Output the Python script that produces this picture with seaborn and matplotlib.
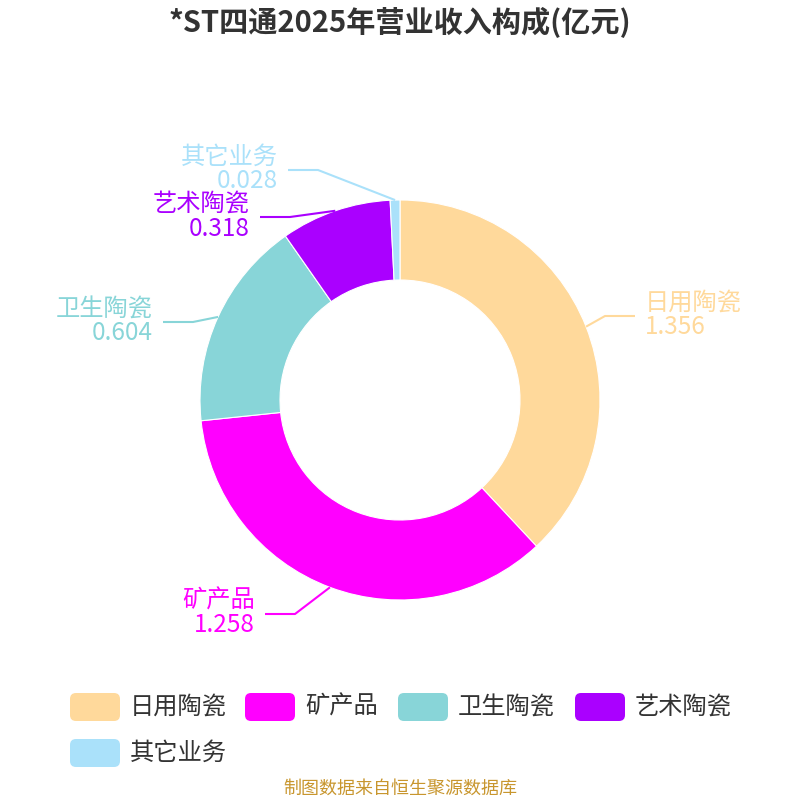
import matplotlib
matplotlib.use("Agg")
import matplotlib.pyplot as plt
import seaborn as sns
import numpy as np
from matplotlib.patches import FancyBboxPatch

categories = ["日用陶瓷", "矿产品", "卫生陶瓷", "艺术陶瓷", "其它业务"]
values = [1.356, 1.258, 0.604, 0.318, 0.028]
value_labels = ["1.356", "1.258", "0.604", "0.318", "0.028"]
colors = ["#FFD99B", "#FF00FF", "#88D5D8", "#AA00FF", "#AAE1FA"]
title = "*ST四通2025年营业收入构成(亿元)"
source = "制图数据来自恒生聚源数据库"

sns.set_theme(style="white")
plt.rcParams["font.family"] = ["Noto Sans CJK SC", "DejaVu Sans"]

W = H = 800
fig = plt.figure(figsize=(8, 8), dpi=100)
ax = fig.add_axes([0, 0, 1, 1])
ax.set_xlim(0, W)
ax.set_ylim(0, H)
ax.set_aspect("equal")
ax.axis("off")

def Y(y):  # convert top-down pixel y to data y
    return H - y

cx, cy, R, ring = 400, 400, 200, 80
wedges, _ = ax.pie(values, colors=colors, startangle=90, counterclock=False,
                   center=(cx, Y(cy)), radius=R,
                   wedgeprops=dict(width=ring, edgecolor="white", linewidth=0.8))
ax.set_xlim(0, W)
ax.set_ylim(0, H)

# label layout: elbow point (pixel coords, top-down) and side
elbows = [(605, 316, 1), (295, 614, -1), (193, 322, -1), (290, 217, -1), (318, 170, -1)]
for w, (ex, ey, side), name, vl, col in zip(wedges, elbows, categories, value_labels, colors):
    mid = np.deg2rad((w.theta1 + w.theta2) / 2)
    p0 = (cx + R * np.cos(mid), Y(cy) + R * np.sin(mid))
    p1 = (ex, Y(ey))
    p2 = (ex + side * 30, Y(ey))
    ax.plot([p0[0], p1[0], p2[0]], [p0[1], p1[1], p2[1]], color=col, lw=1.5,
            solid_capstyle="butt")
    ax.text(p2[0] + side * 10, p2[1] + 1, f"{name}\n{vl}", color=col, fontsize=17.5,
            ha="left" if side > 0 else "right", va="center",
            multialignment="left" if side > 0 else "right", linespacing=0.95)

fig.text(0.5, 1 - 22 / H, title, ha="center", va="center", fontsize=21,
         fontweight="bold", color="#333333")

# legend
leg_items = [(70, 707), (245, 707), (398, 707), (575, 707), (70, 753)]
for (lx, ly), name, col in zip(leg_items, categories, colors):
    ax.add_patch(FancyBboxPatch((lx + 4, Y(ly) - 10), 42, 20,
                                boxstyle="round,pad=4,rounding_size=6",
                                facecolor=col, edgecolor="none"))
    ax.text(lx + 60, Y(ly), name, fontsize=17.5, color="#333333", ha="left", va="center")

fig.text(0.5, 1 - 789 / H, source, ha="center", va="center", fontsize=13,
         color="#C8962E")

fig.savefig("out.png", dpi=100)
